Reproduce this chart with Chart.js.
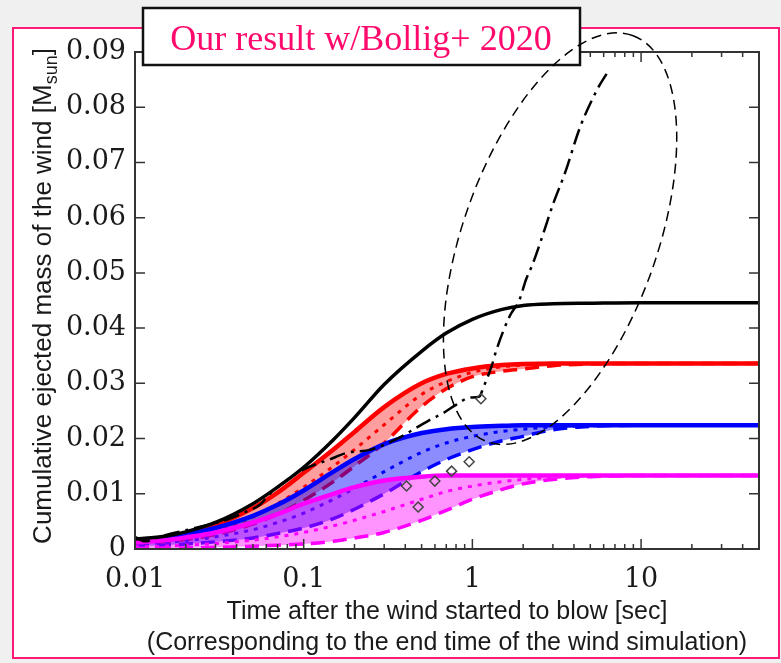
<!DOCTYPE html>
<html>
<head>
<meta charset="utf-8">
<script src="https://cdn.jsdelivr.net/npm/chart.js@4.4.1/dist/chart.umd.min.js"></script>
<style>
  html, body { margin: 0; padding: 0; background: #f0f0f0; }
  body { width: 781px; height: 663px; position: relative; overflow: hidden; }
  #frame { position: absolute; left: 12px; top: 27px; width: 764px; height: 628px; border: 2px solid #ff1a75; background: #fff; }
  #myChart { position: absolute; left: 0; top: 0; }
</style>
</head>
<body>
<div id="frame"></div>
<canvas id="myChart" width="781" height="663"></canvas>
<script>
// time grid shared by the model curves [sec]
const timeGrid = [0.01, 0.015, 0.02, 0.03, 0.05, 0.07, 0.1, 0.15, 0.2, 0.3, 0.5, 0.7, 1, 1.5, 2, 3, 5, 10, 20, 50];

// cumulative ejected mass [Msun]
const blackSolid = [0.0018, 0.0023, 0.0031, 0.0048, 0.0082, 0.0112, 0.0148, 0.0198, 0.0238, 0.0298, 0.0358, 0.0391, 0.0416, 0.0434, 0.0441, 0.0444, 0.0445, 0.0446, 0.0446, 0.0446];

const redSolid  = [0.0016, 0.0021, 0.0028, 0.0043, 0.0074, 0.0102, 0.0138, 0.0180, 0.0212, 0.0257, 0.0300, 0.0317, 0.0327, 0.0333, 0.0335, 0.0336, 0.0336, 0.0336, 0.0336, 0.0336];
const redDotted = [0.0012, 0.0017, 0.0022, 0.0034, 0.0058, 0.0082, 0.0112, 0.0150, 0.0180, 0.0225, 0.0280, 0.0303, 0.0320, 0.0330, 0.0333, 0.0335, 0.0336, 0.0336, 0.0336, 0.0336];
const redDashed = [0.0009, 0.0013, 0.0017, 0.0026, 0.0045, 0.0063, 0.0088, 0.0122, 0.0150, 0.0192, 0.0258, 0.0290, 0.0312, 0.0322, 0.0326, 0.0332, 0.0335, 0.0336, 0.0336, 0.0336];

const blueSolid  = [0.0015, 0.0020, 0.0026, 0.0038, 0.0060, 0.0080, 0.0106, 0.0140, 0.0163, 0.0190, 0.0210, 0.0217, 0.0221, 0.0223, 0.0224, 0.0224, 0.0224, 0.0224, 0.0224, 0.0224];
const blueDotted = [0.0009, 0.0012, 0.0015, 0.0022, 0.0035, 0.0048, 0.0065, 0.0090, 0.0110, 0.0140, 0.0175, 0.0192, 0.0204, 0.0213, 0.0217, 0.0221, 0.0223, 0.0224, 0.0224, 0.0224];
const blueDashed = [0.0005, 0.0007, 0.0009, 0.0013, 0.0020, 0.0028, 0.0038, 0.0055, 0.0072, 0.0100, 0.0140, 0.0162, 0.0180, 0.0196, 0.0204, 0.0216, 0.0222, 0.0224, 0.0224, 0.0224];

const magentaSolid  = [0.0012, 0.0016, 0.0021, 0.0030, 0.0048, 0.0063, 0.0082, 0.0100, 0.0112, 0.0124, 0.0131, 0.0133, 0.0133, 0.0133, 0.0133, 0.0133, 0.0133, 0.0133, 0.0133, 0.0133];
const magentaDotted = [0.0004, 0.0005, 0.0007, 0.0010, 0.0016, 0.0022, 0.0030, 0.0042, 0.0052, 0.0068, 0.0090, 0.0104, 0.0114, 0.0122, 0.0126, 0.0130, 0.0132, 0.0133, 0.0133, 0.0133];
const magentaDashed = [0.0001, 0.0002, 0.0002, 0.0003, 0.0005, 0.0007, 0.0009, 0.0014, 0.0020, 0.0030, 0.0052, 0.0070, 0.0090, 0.0108, 0.0118, 0.0126, 0.0131, 0.0133, 0.0133, 0.0133];

// Bollig+ 2020 curve (dash-dot)
const bolligTime = [0.01, 0.0114, 0.0146, 0.022, 0.035, 0.046, 0.055, 0.063, 0.10, 0.142, 0.18, 0.25, 0.35, 0.48, 0.56, 0.67, 0.80, 0.96, 1.10, 1.16, 1.30, 1.39, 1.66, 1.90, 2.08, 2.25, 2.52, 3.02, 3.54, 4.35, 5.56, 6.26];
const bolligMass = [0.0022, 0.0014, 0.0024, 0.0037, 0.0053, 0.0068, 0.0080, 0.0100, 0.0144, 0.0162, 0.0174, 0.0180, 0.0198, 0.0222, 0.0234, 0.0246, 0.0261, 0.0274, 0.0276, 0.0292, 0.0331, 0.0361, 0.0421, 0.0451, 0.0488, 0.0512, 0.0554, 0.0626, 0.0681, 0.0764, 0.0835, 0.0861];

// diamond markers
const diamondTime = [0.407, 0.477, 0.599, 0.753, 0.957, 1.123];
const diamondMass = [0.0114, 0.0076, 0.0123, 0.0141, 0.0158, 0.0272];

// dashed ellipse: centre, end of long axis, end of short axis (time, mass)
const ellipseCenter = [3.31, 0.0562];
const ellipseMajorEnd = [8.9, 0.0930];
const ellipseMinorEnd = [11.53, 0.0503];

// axes
const xTickValues = [0.01, 0.1, 1, 10];
const xTickLabels = ['0.01', '0.1', '1', '10'];
const yTickValues = [0, 0.01, 0.02, 0.03, 0.04, 0.05, 0.06, 0.07, 0.08, 0.09];
const yTickLabels = ['0', '0.01', '0.02', '0.03', '0.04', '0.05', '0.06', '0.07', '0.08', '0.09'];

const titleText = 'Our result w/Bollig+ 2020';
const xTitle = ['Time after the wind started to blow [sec]', '(Corresponding to the end time of the wind simulation)'];
const yTitleMain = 'Cumulative ejected mass of the wind [M';
const yTitleSub = 'sun';

const toPoints = (xs, ys) => xs.map((x, i) => ({ x: x, y: ys[i] }));

// one coloured band: solid upper edge, dotted middle, dashed lower edge
function makeBand(color, fillColor, solid, dotted, dashed, order) {
    return [{
        data: toPoints(timeGrid, solid),
        borderColor: color, borderWidth: 4.5,
        backgroundColor: fillColor, fill: '+2',
        order: order + 2
    }, {
        data: toPoints(timeGrid, dotted),
        borderColor: color, borderWidth: 3, borderDash: [4, 6],
        fill: false, order: order + 1
    }, {
        data: toPoints(timeGrid, dashed),
        borderColor: color, borderWidth: 3.5, borderDash: [14, 8],
        fill: false, order: order
    }];
}

const datasets = [].concat(
    makeBand('#ff0000', 'rgba(255, 0, 0, 0.38)', redSolid, redDotted, redDashed, 30),
    makeBand('#0000ff', 'rgba(0, 0, 255, 0.45)', blueSolid, blueDotted, blueDashed, 20),
    makeBand('#ff00ff', 'rgba(255, 0, 255, 0.42)', magentaSolid, magentaDotted, magentaDashed, 10),
    [{
        data: toPoints(timeGrid, blackSolid),
        borderColor: '#000', borderWidth: 3.5, fill: false, order: 3
    }, {
        data: toPoints(bolligTime, bolligMass),
        borderColor: '#000', borderWidth: 2.5, borderDash: [16, 6, 3, 6],
        fill: false, tension: 0.15, order: 2
    }, {
        data: toPoints(diamondTime, diamondMass),
        showLine: false, pointStyle: 'rectRot', pointRadius: 5,
        pointBorderWidth: 1.5, pointBorderColor: '#444',
        pointBackgroundColor: 'rgba(0, 0, 0, 0)', order: 1
    }]
);

// frame, inward ticks, y title, title box and ellipse
const decorPlugin = {
    id: 'decor',
    afterDatasetsDraw(chart) {
        const { ctx, chartArea: a, scales: { x, y } } = chart;
        ctx.save();

        ctx.strokeStyle = '#333';
        ctx.lineWidth = 1.5;
        ctx.beginPath();
        yTickValues.forEach(v => {
            const py = y.getPixelForValue(v);
            ctx.moveTo(a.left, py); ctx.lineTo(a.left + 10, py);
            ctx.moveTo(a.right, py); ctx.lineTo(a.right - 10, py);
        });
        xTickValues.forEach(d => {
            for (let k = 1; k <= 9; k++) {
                const v = d * k;
                if (v > x.max) break;
                const px = x.getPixelForValue(v);
                const len = k === 1 ? 10 : 5;
                ctx.moveTo(px, a.bottom); ctx.lineTo(px, a.bottom - len);
                ctx.moveTo(px, a.top); ctx.lineTo(px, a.top + len);
            }
        });
        ctx.stroke();
        ctx.lineWidth = 2;
        ctx.strokeRect(a.left, a.top, a.right - a.left, a.bottom - a.top);

        // y axis title with subscript
        ctx.save();
        ctx.translate(51, 296);
        ctx.rotate(-Math.PI / 2);
        ctx.fillStyle = '#1a1a1a';
        ctx.textBaseline = 'alphabetic';
        ctx.font = '26px "Liberation Sans", Arial, sans-serif';
        const w1 = ctx.measureText(yTitleMain).width;
        const w3 = ctx.measureText(']').width;
        ctx.font = '18px "Liberation Sans", Arial, sans-serif';
        const w2 = ctx.measureText(yTitleSub).width;
        let sx = -(w1 + w2 + w3) / 2;
        ctx.font = '26px "Liberation Sans", Arial, sans-serif';
        ctx.fillText(yTitleMain, sx, 0);
        sx += w1;
        ctx.font = '18px "Liberation Sans", Arial, sans-serif';
        ctx.fillText(yTitleSub, sx, 6);
        sx += w2;
        ctx.font = '26px "Liberation Sans", Arial, sans-serif';
        ctx.fillText(']', sx, 0);
        ctx.restore();

        // title box
        ctx.fillStyle = '#fff';
        ctx.fillRect(143, 8, 437, 57);
        ctx.strokeStyle = '#111';
        ctx.lineWidth = 2.5;
        ctx.strokeRect(143, 8, 437, 57);
        ctx.fillStyle = '#ff0a6c';
        ctx.font = '36px "Liberation Serif", "Times New Roman", serif';
        ctx.textAlign = 'center';
        ctx.textBaseline = 'alphabetic';
        ctx.fillText(titleText, 361, 50);

        // dashed ellipse
        const cx = x.getPixelForValue(ellipseCenter[0]), cy = y.getPixelForValue(ellipseCenter[1]);
        const mx = x.getPixelForValue(ellipseMajorEnd[0]), my = y.getPixelForValue(ellipseMajorEnd[1]);
        const nx = x.getPixelForValue(ellipseMinorEnd[0]), ny = y.getPixelForValue(ellipseMinorEnd[1]);
        ctx.strokeStyle = '#000';
        ctx.lineWidth = 1.5;
        ctx.setLineDash([10, 6]);
        ctx.beginPath();
        ctx.ellipse(cx, cy, Math.hypot(mx - cx, my - cy), Math.hypot(nx - cx, ny - cy), Math.atan2(my - cy, mx - cx), 0, 2 * Math.PI);
        ctx.stroke();

        ctx.restore();
    }
};

const ctx = document.getElementById('myChart').getContext('2d');
const myChart = new Chart(ctx, {
    type: 'line',
    data: { datasets: datasets },
    options: {
        responsive: false,
        animation: false,
        devicePixelRatio: 1,
        layout: { padding: { top: 52, right: 22, left: 0, bottom: 0 } },
        elements: {
            point: { radius: 0 },
            line: { cubicInterpolationMode: 'monotone', borderCapStyle: 'butt' }
        },
        plugins: { legend: { display: false }, tooltip: { enabled: false } },
        scales: {
            x: {
                type: 'logarithmic',
                min: 0.01,
                max: 50,
                grid: { display: false, drawTicks: false },
                border: { display: false },
                afterBuildTicks: scale => { scale.ticks = xTickValues.map(v => ({ value: v })); },
                afterFit: scale => { scale.height = 114; },
                ticks: {
                    autoSkip: false, maxRotation: 0, padding: 15,
                    color: '#1a1a1a',
                    font: { family: '"DejaVu Serif", serif', size: 27 },
                    callback: (value, index) => xTickLabels[index]
                },
                title: {
                    display: true,
                    text: xTitle,
                    color: '#1a1a1a',
                    font: { family: '"Liberation Sans", Arial, sans-serif', size: 25, lineHeight: 1.24 },
                    padding: { top: 0, bottom: 4.5 }
                }
            },
            y: {
                min: 0,
                max: 0.09,
                grid: { display: false, drawTicks: false },
                border: { display: false },
                afterBuildTicks: scale => { scale.ticks = yTickValues.map(v => ({ value: v })); },
                afterFit: scale => { scale.width = 135; },
                ticks: {
                    padding: 9,
                    color: '#1a1a1a',
                    font: { family: '"DejaVu Serif", serif', size: 27 },
                    callback: (value, index) => yTickLabels[index]
                }
            }
        }
    },
    plugins: [decorPlugin]
});
</script>
</body>
</html>
